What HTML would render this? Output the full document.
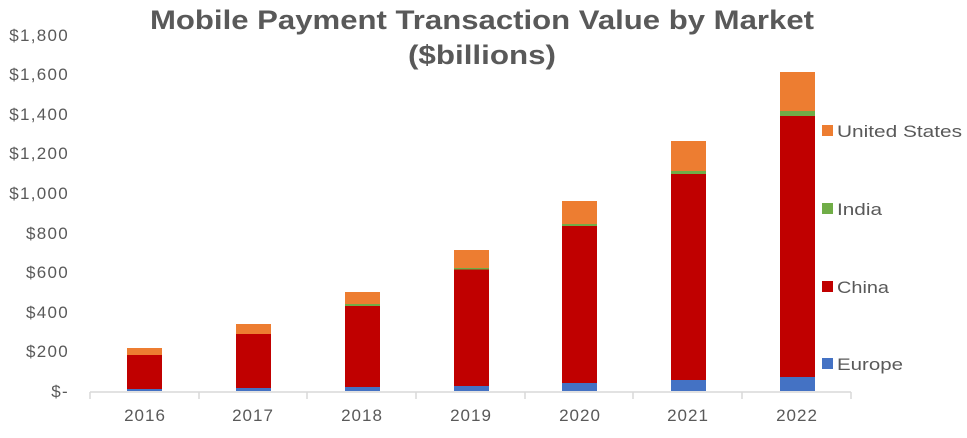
<!DOCTYPE html><html><head><style>body{margin:0;background:#fff}svg{font-family:"Liberation Sans",sans-serif}</style></head><body>
<svg width="967" height="433" xmlns="http://www.w3.org/2000/svg">
<text x="482" y="29" text-anchor="middle" font-size="27" font-weight="bold" fill="#595959" textLength="664" lengthAdjust="spacingAndGlyphs">Mobile Payment Transaction Value by Market</text>
<text x="482" y="64" text-anchor="middle" font-size="27" font-weight="bold" fill="#595959" textLength="148" lengthAdjust="spacingAndGlyphs">($billions)</text>
<g font-size="17" fill="#595959" text-anchor="end" letter-spacing="1.3">
<text x="69" y="397">$-</text><text x="69" y="357">$200</text><text x="69" y="318">$400</text><text x="69" y="278">$600</text><text x="69" y="239">$800</text><text x="69" y="199">$1,000</text><text x="69" y="159">$1,200</text><text x="69" y="120">$1,400</text><text x="69" y="80">$1,600</text><text x="69" y="41">$1,800</text>
</g>
<g stroke="#d9d9d9" stroke-width="1.5"><line x1="90" y1="392" x2="851" y2="392"/>
<line x1="90" y1="392" x2="90" y2="399"/><line x1="199" y1="392" x2="199" y2="399"/><line x1="307" y1="392" x2="307" y2="399"/><line x1="416" y1="392" x2="416" y2="399"/><line x1="525" y1="392" x2="525" y2="399"/><line x1="633" y1="392" x2="633" y2="399"/><line x1="742" y1="392" x2="742" y2="399"/><line x1="851" y1="392" x2="851" y2="399"/></g>
<g>
<rect x="127" y="348" width="35" height="7" fill="#ed7d31"/><rect x="127" y="355" width="35" height="34" fill="#c00000"/><rect x="127" y="389" width="35" height="2" fill="#4472c4"/>
<rect x="236" y="324" width="35" height="10" fill="#ed7d31"/><rect x="236" y="334" width="35" height="54" fill="#c00000"/><rect x="236" y="388" width="35" height="3" fill="#4472c4"/>
<rect x="345" y="292" width="35" height="12" fill="#ed7d31"/><rect x="345" y="304" width="35" height="2" fill="#70ad47"/><rect x="345" y="306" width="35" height="81" fill="#c00000"/><rect x="345" y="387" width="35" height="4" fill="#4472c4"/>
<rect x="454" y="250" width="35" height="18" fill="#ed7d31"/><rect x="454" y="268" width="35" height="1.5" fill="#70ad47"/><rect x="454" y="269.5" width="35" height="116.5" fill="#c00000"/><rect x="454" y="386" width="35" height="5" fill="#4472c4"/>
<rect x="562" y="201" width="35" height="23" fill="#ed7d31"/><rect x="562" y="224" width="35" height="2" fill="#70ad47"/><rect x="562" y="226" width="35" height="157" fill="#c00000"/><rect x="562" y="383" width="35" height="8" fill="#4472c4"/>
<rect x="671" y="141" width="35" height="30" fill="#ed7d31"/><rect x="671" y="171" width="35" height="3" fill="#70ad47"/><rect x="671" y="174" width="35" height="206" fill="#c00000"/><rect x="671" y="380" width="35" height="11" fill="#4472c4"/>
<rect x="780" y="72" width="35" height="39" fill="#ed7d31"/><rect x="780" y="111" width="35" height="5" fill="#70ad47"/><rect x="780" y="116" width="35" height="261" fill="#c00000"/><rect x="780" y="377" width="35" height="14" fill="#4472c4"/>
</g>
<g font-size="17" fill="#595959" text-anchor="middle" letter-spacing="1">
<text x="145" y="421">2016</text><text x="253" y="421">2017</text><text x="362" y="421">2018</text><text x="471" y="421">2019</text><text x="580" y="421">2020</text><text x="688" y="421">2021</text><text x="797" y="421">2022</text>
</g>
<g font-size="17" fill="#595959">
<rect x="822" y="125" width="11" height="11" fill="#ed7d31"/><text x="837" y="137" textLength="125" lengthAdjust="spacingAndGlyphs">United States</text>
<rect x="822" y="203" width="11" height="11" fill="#70ad47"/><text x="837" y="215" textLength="45" lengthAdjust="spacingAndGlyphs">India</text>
<rect x="822" y="281" width="11" height="11" fill="#c00000"/><text x="837" y="293" textLength="52" lengthAdjust="spacingAndGlyphs">China</text>
<rect x="822" y="358" width="11" height="11" fill="#4472c4"/><text x="837" y="370" textLength="66" lengthAdjust="spacingAndGlyphs">Europe</text>
</g>
</svg></body></html>
